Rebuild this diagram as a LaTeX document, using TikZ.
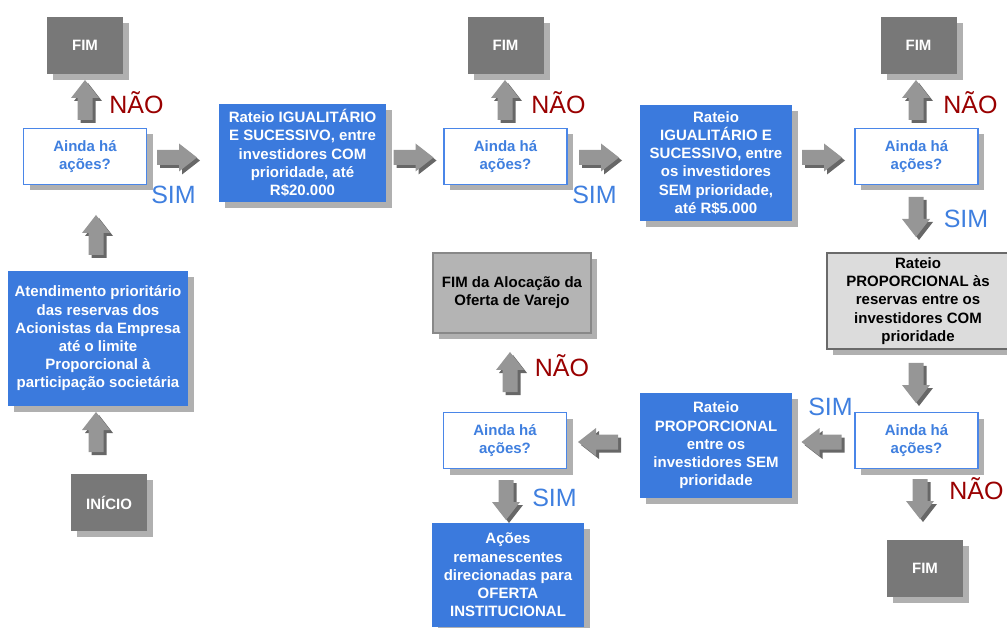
\documentclass[tikz,border=0pt]{standalone}
\usepackage{fontspec}
\setmainfont{Liberation Sans}
\usetikzlibrary{shadows}
\definecolor{boxblue}{HTML}{3B7ADD}
\definecolor{txtblue}{HTML}{3F7FDF}
\definecolor{bordblue}{HTML}{4A86E8}
\definecolor{naored}{HTML}{990000}
\definecolor{fimgray}{HTML}{787878}
\definecolor{shadowgray}{HTML}{B0B0B0}
\definecolor{arrowgray}{HTML}{969696}
\definecolor{arrowshadow}{HTML}{676767}
\definecolor{lightbox}{HTML}{DCDCDC}
\definecolor{midbox}{HTML}{B4B4B4}
\definecolor{boxborder}{HTML}{6A6A6A}
\begin{document}
\begin{tikzpicture}[x=1pt,y=-1pt,
  boxshadow/.style={drop shadow={shadow xshift=6pt,shadow yshift=-6pt,fill=shadowgray,opacity=1}},
  base/.style={rectangle,inner sep=1pt,align=center,font=\bfseries\fontsize{15}{18.2}\selectfont,boxshadow},
  bluebox/.style={base,fill=boxblue,text=white},
  askbox/.style={base,fill=white,draw=bordblue,line width=1.5pt,text=txtblue,minimum width=123pt,minimum height=56pt},
  fimbox/.style={base,fill=fimgray,text=white,minimum width=76pt,minimum height=57pt},
  greybox/.style={base,draw=boxborder,line width=1.5pt,text=black},
  simlbl/.style={text=txtblue,font=\fontsize{25}{25}\selectfont,inner sep=0pt},
  naolbl/.style={text=naored,font=\fontsize{25}{25}\selectfont,inner sep=0pt},
  pics/barr/.style={code={
    \begin{scope}[xshift=3pt,yshift=-3pt,rotate=#1]
      \fill[arrowshadow] (-20,-7.5) -- (2,-7.5) -- (2,-14) -- (20,0) -- (2,14) -- (2,7.5) -- (-20,7.5) -- cycle;
    \end{scope}
    \begin{scope}[rotate=#1]
      \fill[arrowgray] (-20,-7.5) -- (2,-7.5) -- (2,-14) -- (20,0) -- (2,14) -- (2,7.5) -- (-20,7.5) -- cycle;
    \end{scope}
  }}
]
\useasboundingbox (0,0) rectangle (1007,628);
\clip (0,0) rectangle (1007,628);

% column 1
\node[fimbox] (fim1) at (85,45.5) {FIM};
\node[askbox] (ainda1) at (85,156.5) {Ainda há\\ações?};
\node[bluebox,minimum width=180pt,minimum height=135pt] (atend) at (98,338.5)
  {Atendimento prioritário\\das reservas dos\\Acionistas da Empresa\\até o limite\\Proporcional à\\participação societária};
\node[fimbox] (inicio) at (109,502.5) {INÍCIO};
\node[naolbl] (nao1) at (136.5,102.5) {NÃO};
\node[simlbl] (sim1) at (173.5,195) {SIM};

% column 2
\node[bluebox,minimum width=167pt,minimum height=98pt] (rat1) at (302.5,153)
  {Rateio IGUALITÁRIO\\E SUCESSIVO, entre\\investidores COM\\prioridade, até\\R\$20.000};

% column 3
\node[fimbox] (fim2) at (505.5,45.5) {FIM};
\node[askbox] (ainda2) at (505.5,156.5) {Ainda há\\ações?};
\node[naolbl] (nao2) at (558.5,102.5) {NÃO};
\node[simlbl] (sim2) at (594.5,195) {SIM};
\node[greybox,fill=midbox,draw=boxborder!80,minimum width=158pt,minimum height=80pt] (fimaloc) at (512,293)
  {FIM da Alocação da\\Oferta de Varejo};
\node[askbox] (ainda4) at (505,440.5) {Ainda há\\ações?};
\node[naolbl] (nao4) at (562,366) {NÃO};
\node[simlbl] (sim4) at (554.5,497.5) {SIM};
\node[bluebox,minimum width=152pt,minimum height=104pt] (acoes) at (508,575)
  {Ações\\remanescentes\\direcionadas para\\OFERTA\\INSTITUCIONAL};

% column 4
\node[bluebox,minimum width=152pt,minimum height=116pt] (rat2) at (716,163)
  {Rateio\\IGUALITÁRIO E\\SUCESSIVO, entre\\os investidores\\SEM prioridade,\\até R\$5.000};
\node[bluebox,minimum width=152pt,minimum height=105pt] (ratsem) at (716,445.5)
  {Rateio\\PROPORCIONAL\\entre os\\investidores SEM\\prioridade};

% column 5
\node[fimbox] (fim3) at (918.5,45.5) {FIM};
\node[askbox] (ainda3) at (916.5,156.5) {Ainda há\\ações?};
\node[naolbl] (nao3) at (970.5,102.5) {NÃO};
\node[simlbl] (sim3) at (966,219) {SIM};
\node[greybox,fill=lightbox,minimum width=182pt,minimum height=96pt] (ratprop) at (918,301)
  {Rateio\\PROPORCIONAL às\\reservas entre os\\investidores COM\\prioridade};
\node[askbox] (ainda5) at (916.5,440.5) {Ainda há\\ações?};
\node[simlbl] (sim5) at (830.5,406.5) {SIM};
\node[naolbl] (nao5) at (976.5,489) {NÃO};
\node[fimbox] (fim4) at (925,568.5) {FIM};

% block arrows (connectors)
\pic (a1)  at (85,100)      {barr=90};
\pic (a2)  at (177,157.5)   {barr=0};
\pic (a3)  at (96,235)      {barr=90};
\pic (a4)  at (96,432)      {barr=90};
\pic (a5)  at (413.5,157.5) {barr=0};
\pic (a6)  at (599,157.5)   {barr=0};
\pic (a7)  at (505,100)     {barr=90};
\pic (a8)  at (822,157.5)   {barr=0};
\pic (a9)  at (916,100)     {barr=90};
\pic (a10) at (916,217)     {barr=270};
\pic (a11) at (916,383)     {barr=270};
\pic (a12) at (920,499)     {barr=270};
\pic (a13) at (821.5,442)   {barr=180};
\pic (a14) at (598,442)     {barr=180};
\pic (a15) at (510,372)     {barr=90};
\pic (a16) at (506,500)     {barr=270};
\end{tikzpicture}
\end{document}
